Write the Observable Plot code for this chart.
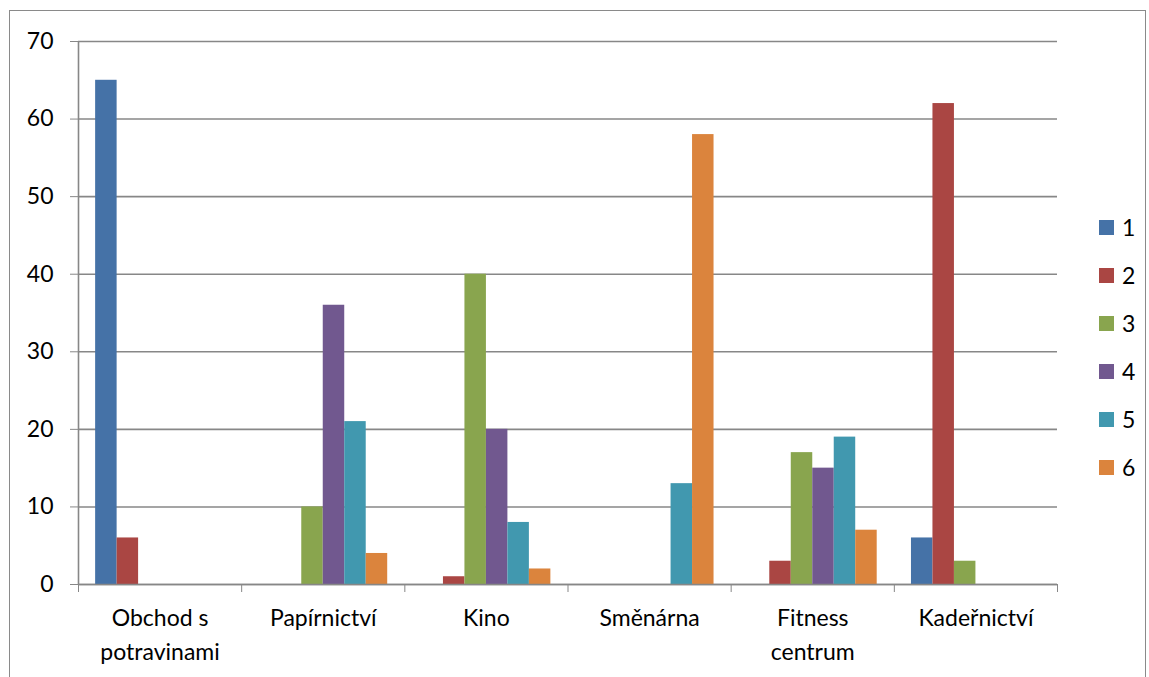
<!DOCTYPE html>
<html>
<head>
<meta charset="utf-8">
<script src="https://cdn.jsdelivr.net/npm/d3@7"></script>
<script src="https://cdn.jsdelivr.net/npm/@observablehq/plot@0.6"></script>
<style>
  html, body { margin: 0; padding: 0; background: #fff; }
  #wrap { position: relative; width: 1149px; height: 677px; overflow: hidden; font-family: Lato, "Open Sans", sans-serif; }
  #border { position: absolute; left: 9px; top: 10px; width: 1137px; height: 700px; border: 1.5px solid #8a8a8a; box-sizing: border-box; pointer-events: none; }
  #chart { position: absolute; left: 0; top: 0; }
  #chart text { fill: #000; }
  #legend { position: absolute; left: 1099px; top: 215px; }
  .li { display: flex; align-items: center; height: 24px; margin-bottom: 24px; font-size: 23px; color: #000; }
  .sw { width: 15px; height: 15px; margin-right: 8px; }
</style>
</head>
<body>
<div id="wrap">
  <div id="chart"></div>
  <div id="legend"></div>
  <div id="border"></div>
</div>
<script>
// ---- data ----
const categories = ["Obchod s\npotravinami", "Papírnictví", "Kino", "Směnárna", "Fitness\ncentrum", "Kadeřnictví"];
const seriesNames = ["1", "2", "3", "4", "5", "6"];
const series1 = [65, 0, 0, 0, 0, 6];
const series2 = [6, 0, 1, 0, 3, 62];
const series3 = [0, 10, 40, 0, 17, 3];
const series4 = [0, 36, 20, 0, 15, 0];
const series5 = [0, 21, 8, 13, 19, 0];
const series6 = [0, 4, 2, 58, 7, 0];
const seriesColors = ["#4572A7", "#AA4643", "#89A54E", "#71588F", "#4198AF", "#DB843D"];
const yTicks = [0, 10, 20, 30, 40, 50, 60, 70];
const xBoundaries = [0, 1, 2, 3, 4, 5, 6];

// ---- layout constants (Excel-like clustered bars, gap width ~150%) ----
const groupFraction = 0.79;
const slot = groupFraction / seriesNames.length;
const outer = (1 - groupFraction) / 2;

const allSeries = [series1, series2, series3, series4, series5, series6];
const rows = [];
categories.forEach((cat, ci) => {
  allSeries.forEach((vals, si) => {
    if (vals[ci] > 0) rows.push({cat, ci, si, series: seriesNames[si], value: vals[ci]});
  });
});
const catRows = categories.map((name, ci) => ({name, ci}));

const gridColor = "#878787";

const chart = Plot.plot({
  width: 1149,
  height: 677,
  marginLeft: 78,
  marginRight: 92,
  marginTop: 41,
  marginBottom: 93,
  style: {fontFamily: "Lato, 'Open Sans', sans-serif", fontSize: "23px", color: gridColor, background: "transparent", overflow: "visible"},
  x: {domain: [0, 6], ticks: xBoundaries, tickFormat: () => "", tickSize: 8, label: null},
  y: {domain: [0, 70], ticks: yTicks, tickSize: 8, tickPadding: 17, label: null},
  color: {domain: seriesNames, range: seriesColors},
  marks: [
    Plot.ruleY(yTicks, {stroke: gridColor, strokeWidth: 1.6}),
    Plot.ruleX([0], {stroke: gridColor, strokeWidth: 1.6}),
    Plot.rect(rows, {
      x1: d => d.ci + outer + d.si * slot,
      x2: d => d.ci + outer + (d.si + 1) * slot,
      y1: 0,
      y2: "value",
      fill: "series"
    }),
    Plot.ruleY([0], {stroke: gridColor, strokeWidth: 1.6}),
    Plot.text(catRows, {
      x: d => d.ci + 0.5,
      y: 0,
      text: "name",
      dy: 18,
      lineAnchor: "top",
      lineHeight: 1.45,
      fontSize: 23,
      fill: "#000"
    })
  ]
});
document.getElementById("chart").appendChild(chart);

const legend = document.getElementById("legend");
seriesNames.forEach((name, i) => {
  const item = document.createElement("div");
  item.className = "li";
  const sw = document.createElement("div");
  sw.className = "sw";
  sw.style.background = seriesColors[i];
  const lab = document.createElement("span");
  lab.textContent = name;
  item.appendChild(sw);
  item.appendChild(lab);
  legend.appendChild(item);
});
</script>
</body>
</html>
